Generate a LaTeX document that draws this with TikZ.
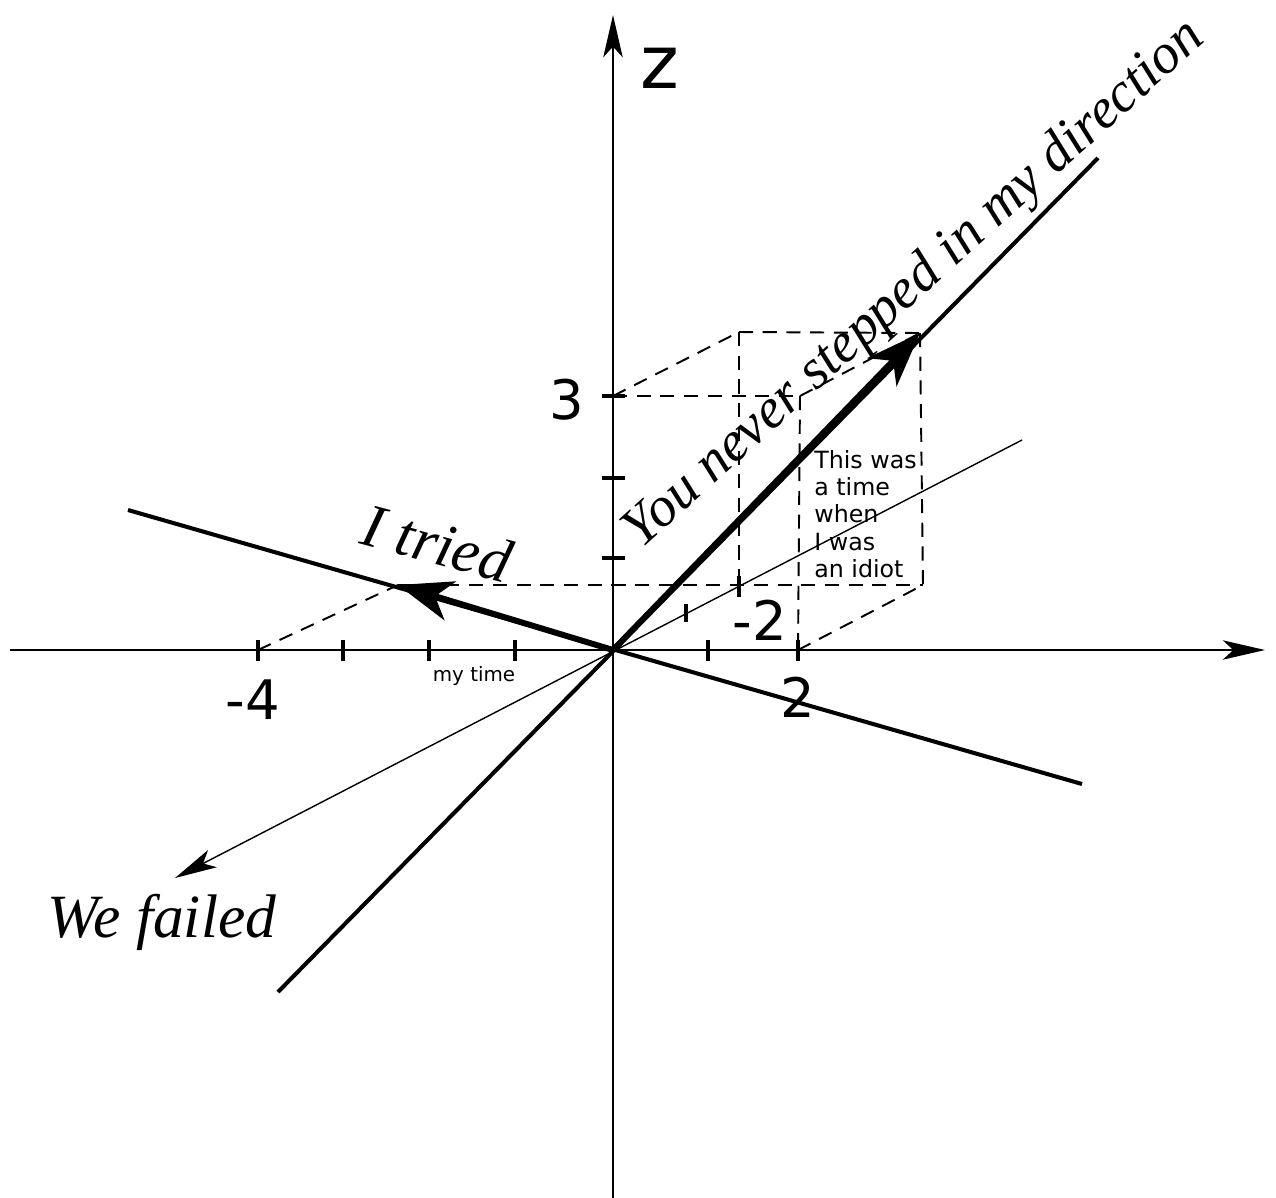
\documentclass[tikz,border=0pt]{standalone}
\usepackage{fontspec}
\newfontfamily\numfont{DejaVu Sans}
\newfontfamily\saidfont{Liberation Serif}
\usepackage{tikz}
\usetikzlibrary{arrows.meta}

\begin{document}
\begin{tikzpicture}[x=0.02cm, y=-0.02cm,
  >={Stealth[length=24pt, width=11pt, inset=6pt]},
  axis/.style={line width=1.6pt, ->},
  ray/.style={line width=2.3pt},
  faint/.style={line width=0.8pt},
  vec/.style={line width=3.4pt, -{Stealth[length=31pt, width=23pt, inset=9pt]}},
  guide/.style={line width=1.1pt, dash pattern=on 8pt off 5.5pt},
  tickmark/.style={line width=2.3pt},
  numlbl/.style={font=\numfont\fontsize{31}{36}\selectfont, inner sep=0pt},
  said/.style={font=\saidfont\itshape\fontsize{35}{40}\selectfont, inner sep=0pt}]
\useasboundingbox (0,0) rectangle (1276,1198);

% Points of the picture
\coordinate (O) at (613,650);
\coordinate (xl) at (10,650);
\coordinate (xr) at (1265,650);
\coordinate (zb) at (613,1198);
\coordinate (zt) at (613,15);
\coordinate (ra) at (278,992);
\coordinate (rb) at (1098,158);
\coordinate (sa) at (128,510);
\coordinate (sb) at (1082,784);
\coordinate (fa) at (1022,440);
\coordinate (fb) at (175,878);
\coordinate (P) at (920,333);
\coordinate (Q) at (398,585);
\coordinate (z3) at (613,396);
\coordinate (x2) at (798,650);
\coordinate (xm4) at (258,650);
\coordinate (yz) at (739,332);
\coordinate (xz) at (800,396);
\coordinate (xy) at (923,585);
\coordinate (y2) at (739,585);

% Axes and lines
\draw[axis] (xl) -- (xr);
\draw[axis] (zb) -- (zt);
\draw[ray] (ra) -- (rb);
\draw[ray] (sa) -- (sb);
\draw[faint, ->] (fa) -- (fb);

% Ticks
\draw[tickmark] (258,640) -- (258,661);
\draw[tickmark] (343,640) -- (343,661);
\draw[tickmark] (429,640) -- (429,661);
\draw[tickmark] (515,640) -- (515,661);
\draw[tickmark] (708,640) -- (708,661);
\draw[tickmark] (798,640) -- (798,661);
\draw[tickmark] (602,396) -- (625,396);
\draw[tickmark] (602,478) -- (625,478);
\draw[tickmark] (602,558) -- (625,558);
\draw[tickmark] (686,604) -- (686,622);
\draw[tickmark] (739,576) -- (739,597);

% Dashed box
\draw[guide] (z3) -- (xz);
\draw[guide] (z3) -- (yz);
\draw[guide] (yz) -- (P);
\draw[guide] (xz) -- (P);
\draw[guide] (yz) -- (y2);
\draw[guide] (xz) -- (x2);
\draw[guide] (P) -- (xy);
\draw[guide] (Q) -- (xy);
\draw[guide] (x2) -- (xy);
\draw[guide] (xm4) -- (Q);

% Vectors
\draw[vec] (O) -- (P);
\draw[vec] (O) -- (Q);

% Labels
\node[font=\numfont\fontsize{42}{48}\selectfont, inner sep=0pt] (zlbl) at (660,68) {z};
\node[numlbl] (three) at (567,400) {3};
\node[numlbl] (mfour) at (253,700) {-4};
\node[numlbl] (two) at (798,697) {2};
\node[numlbl] (mtwo) at (760,620) {-2};
\node[font=\numfont\fontsize{11.3}{13}\selectfont, inner sep=0pt] (mytime) at (474,676) {my time};
\node[font=\numfont\fontsize{13.5}{15.5}\selectfont, align=left, anchor=north west, inner sep=0pt] (idiot) at (814,450) {This was\\a time\\when\\I was\\an idiot};
\node[said] (failed) at (162,922) {We failed};
\node[said, rotate=-15] (tried) at (437,543) {I tried};
\node[said, rotate=42, font=\saidfont\itshape\fontsize{32}{38}\selectfont] (never) at (915,285) {You never stepped in my direction};
\end{tikzpicture}
\end{document}
